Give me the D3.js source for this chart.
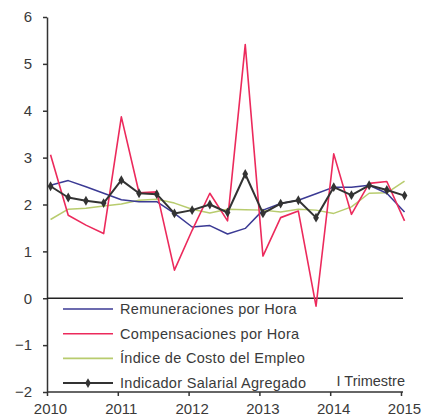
<!DOCTYPE html>
<html>
<head>
<meta charset="utf-8">
<script src="https://cdn.jsdelivr.net/npm/d3@7.9.0/dist/d3.min.js"></script>
<style>
  body { margin: 0; background: #fff; }
  svg { display: block; font-family: 'Liberation Sans', Arial, sans-serif; }
  .axis text { fill: #3a3a3a; font-size: 15px; }
  .axis path, .axis line { stroke: #333; stroke-width: 1.5; }
  .legend text { fill: #3a3a3a; font-size: 14.5px; letter-spacing: 0.3px; }
</style>
</head>
<body>
<svg width="434" height="418"></svg>
<script>
// quarterly data, 2010 Q1 .. 2015 Q1
const years = [2010, 2011, 2012, 2013, 2014, 2015];
const yTicks = [-2, -1, 0, 1, 2, 3, 4, 5, 6];

const remuneraciones = [2.41, 2.51, 2.38, 2.24, 2.10, 2.06, 2.06, 1.81, 1.52, 1.55, 1.37, 1.49, 1.88, 2.02, 2.09, 2.23, 2.37, 2.37, 2.41, 2.24, 1.84];
const compensaciones = [3.06, 1.77, 1.56, 1.38, 3.87, 2.25, 2.27, 0.60, 1.45, 2.24, 1.65, 5.41, 0.90, 1.72, 1.86, -0.17, 3.08, 1.79, 2.45, 2.49, 1.65];
const indiceCosto = [1.68, 1.90, 1.92, 1.97, 2.01, 2.09, 2.11, 2.03, 1.90, 1.82, 1.90, 1.89, 1.88, 1.84, 1.90, 1.88, 1.81, 1.95, 2.24, 2.25, 2.50];
const indicador = [2.39, 2.15, 2.08, 2.03, 2.52, 2.24, 2.22, 1.81, 1.88, 2.00, 1.83, 2.65, 1.81, 2.02, 2.09, 1.72, 2.37, 2.20, 2.41, 2.31, 2.19];

const seriesNames = ['Remuneraciones por Hora', 'Compensaciones por Hora', 'Índice de Costo del Empleo', 'Indicador Salarial Agregado'];
const seriesColors = ['#3b3a94', '#ec2a5c', '#b8cc6e', '#333333'];

const svg = d3.select('svg');

let x = d3.scaleLinear().domain([2010, 2015]).range([47, 401]);
let y = d3.scaleLinear().domain([-2, 6]).range([392, 17]);

// quarter index -> time (points sit slightly right of the year tick)
const t = (i) => 2010 + i / 4 + 0.05;

// axes
svg.append('g')
  .attr('class', 'axis')
  .attr('transform', `translate(0,${y(-2)})`)
  .call(d3.axisBottom(x).tickValues(years).tickFormat(d3.format('d')).tickSize(4).tickSizeOuter(0).tickPadding(7))
  .call((g) => g.select('.domain').attr('d', `M${x(2010)},0H${x(2015) + 2}`))
  .selectAll('text').attr('dx', 3);

svg.append('g')
  .attr('class', 'axis')
  .attr('transform', `translate(${x(2010)},0)`)
  .call(d3.axisLeft(y).tickValues(yTicks).tickSize(4).tickSizeOuter(0).tickPadding(11));

// zero line
svg.append('line')
  .attr('x1', x(2010)).attr('x2', x(2015) + 2)
  .attr('y1', y(0)).attr('y2', y(0))
  .attr('stroke', '#222').attr('stroke-width', 1.5);

const line = d3.line().x((d, i) => x(t(i))).y((d) => y(d));

const drawOrder = [
  [indiceCosto, 2, 1.5],
  [remuneraciones, 0, 1.5],
  [compensaciones, 1, 1.6],
  [indicador, 3, 2],
];
drawOrder.forEach(([vals, c, w]) => {
  svg.append('path')
    .attr('d', line(vals))
    .attr('fill', 'none')
    .attr('stroke', seriesColors[c])
    .attr('stroke-width', w)
    .attr('stroke-linejoin', 'round');
});

const diamond = d3.symbol().type(d3.symbolDiamond).size(28);
svg.append('g').selectAll('path')
  .data(indicador)
  .join('path')
  .attr('d', diamond)
  .attr('transform', (d, i) => `translate(${x(t(i))},${y(d)})`)
  .attr('fill', '#333');

// legend
const legend = svg.append('g').attr('class', 'legend').attr('transform', 'translate(63,309)');
seriesNames.forEach((name, i) => {
  let row = legend.append('g').attr('transform', `translate(0,${i * 24.7})`);
  row.append('line')
    .attr('x1', 0).attr('x2', 50)
    .attr('stroke', seriesColors[i])
    .attr('stroke-width', i === 3 ? 2 : 1.6);
  if (i === 3) row.append('path').attr('d', diamond).attr('transform', 'translate(25,0)').attr('fill', '#333');
  row.append('text').attr('x', 57).attr('y', 5).text(name);
});

svg.append('text')
  .attr('x', 405).attr('y', 386)
  .attr('text-anchor', 'end')
  .attr('fill', '#3a3a3a')
  .attr('font-size', 14.5)
  .text('I Trimestre');
</script>
</body>
</html>
